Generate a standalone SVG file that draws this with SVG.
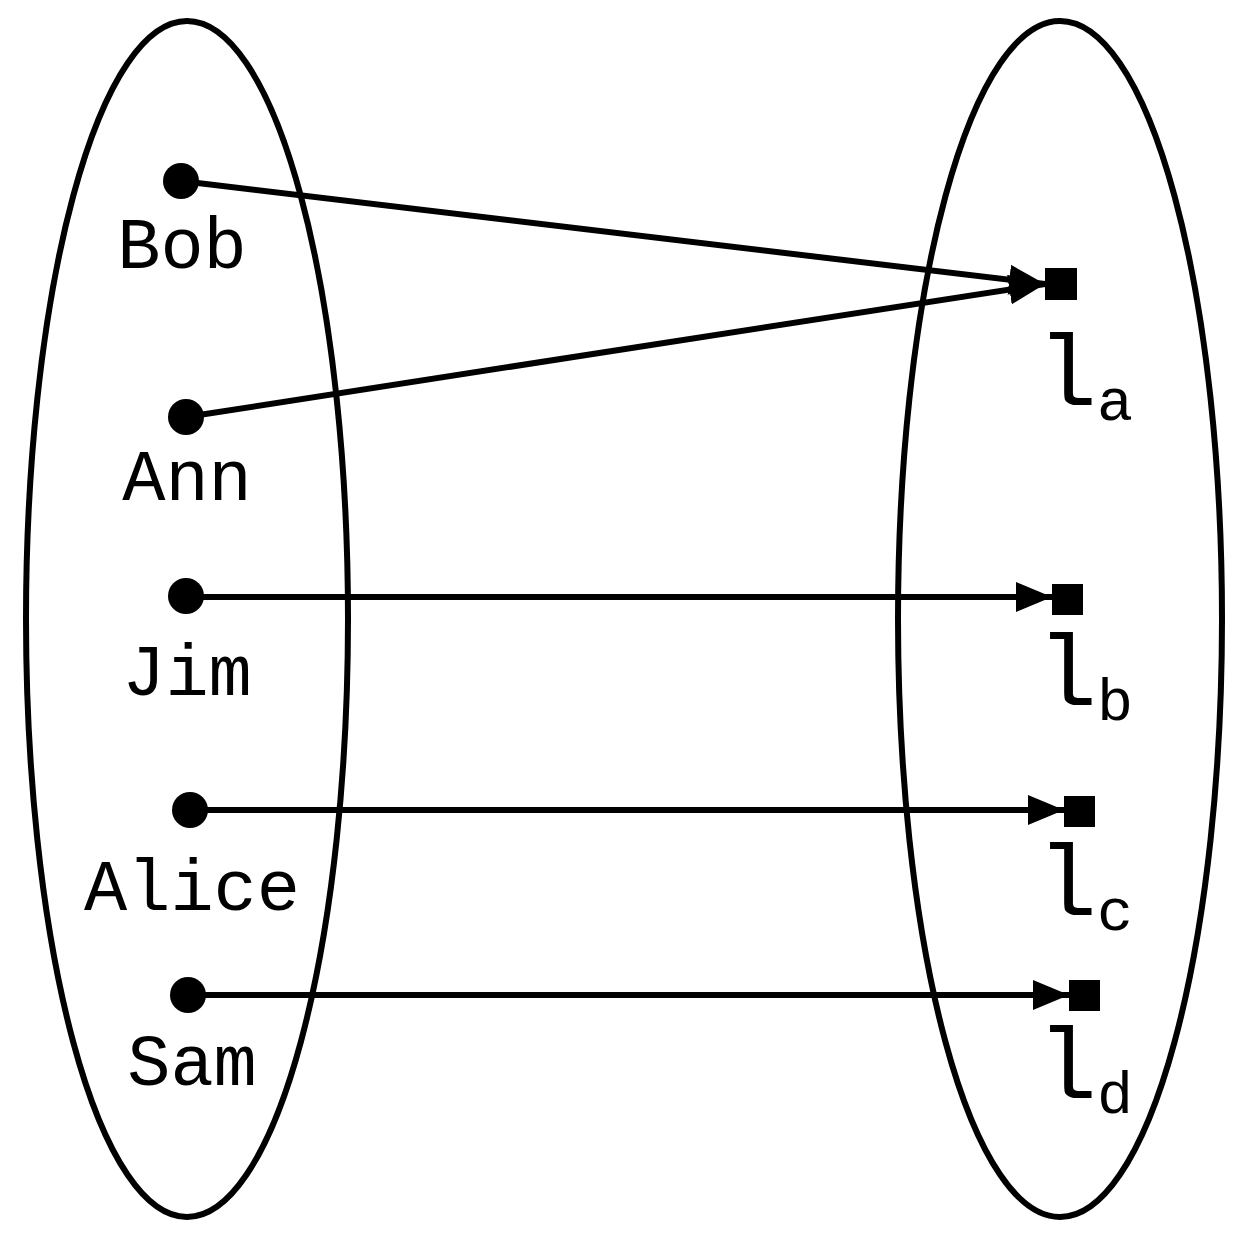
<svg xmlns="http://www.w3.org/2000/svg" width="1251" height="1240" viewBox="0 0 1251 1240">
<style>
.e{fill:none;stroke:#000;stroke-width:6}
.c{stroke:#000;stroke-width:6;fill:none}
.t{font-family:"Liberation Mono","DejaVu Sans Mono",monospace;font-size:72px;fill:#000;text-anchor:middle}
.l{font-family:"Liberation Mono","DejaVu Sans Mono",monospace;font-size:100px;fill:#000}
.s{font-size:60px}
</style>
<defs>
<marker id="ah" markerWidth="36" markerHeight="30" refX="36" refY="15" orient="auto" markerUnits="userSpaceOnUse"><path d="M0,0L36,15L0,30z"/></marker></defs>
<g id="setL"><ellipse class="e" cx="187" cy="619" rx="161" ry="598"/></g>
<g id="setR"><ellipse class="e" cx="1060" cy="619" rx="162" ry="598"/></g>
<g id="connectors">
<line class="c" x1="181" y1="181" x2="1045" y2="284" marker-end="url(#ah)"/>
<line class="c" x1="186" y1="417" x2="1045" y2="284" marker-end="url(#ah)"/>
<line class="c" x1="186" y1="597" x2="1052" y2="597" marker-end="url(#ah)"/>
<line class="c" x1="190" y1="810" x2="1064" y2="810" marker-end="url(#ah)"/>
<line class="c" x1="188" y1="995" x2="1069" y2="995" marker-end="url(#ah)"/>
</g>
<g id="bob"><circle cx="181" cy="181" r="18"/><text class="t" x="182" y="268">Bob</text></g>
<g id="ann"><circle cx="186" cy="417" r="18"/><text class="t" x="187" y="500">Ann</text></g>
<g id="jim"><circle cx="186" cy="596" r="18"/><text class="t" x="187" y="695">Jim</text></g>
<g id="alice"><circle cx="190" cy="810" r="18"/><text class="t" x="192" y="910">Alice</text></g>
<g id="sam"><circle cx="188" cy="995" r="18"/><text class="t" x="192" y="1085">Sam</text></g>
<g id="la"><rect x="1045" y="268" width="32" height="32"/><text class="l" x="1037" y="405">l<tspan class="s" dy="15">a</tspan></text></g>
<g id="lb"><rect x="1052" y="584" width="31" height="31"/><text class="l" x="1037" y="705">l<tspan class="s" dy="15">b</tspan></text></g>
<g id="lc"><rect x="1064" y="796" width="31" height="31"/><text class="l" x="1037" y="915">l<tspan class="s" dy="15">c</tspan></text></g>
<g id="ld"><rect x="1069" y="980" width="31" height="31"/><text class="l" x="1037" y="1098">l<tspan class="s" dy="15">d</tspan></text></g>
</svg>
